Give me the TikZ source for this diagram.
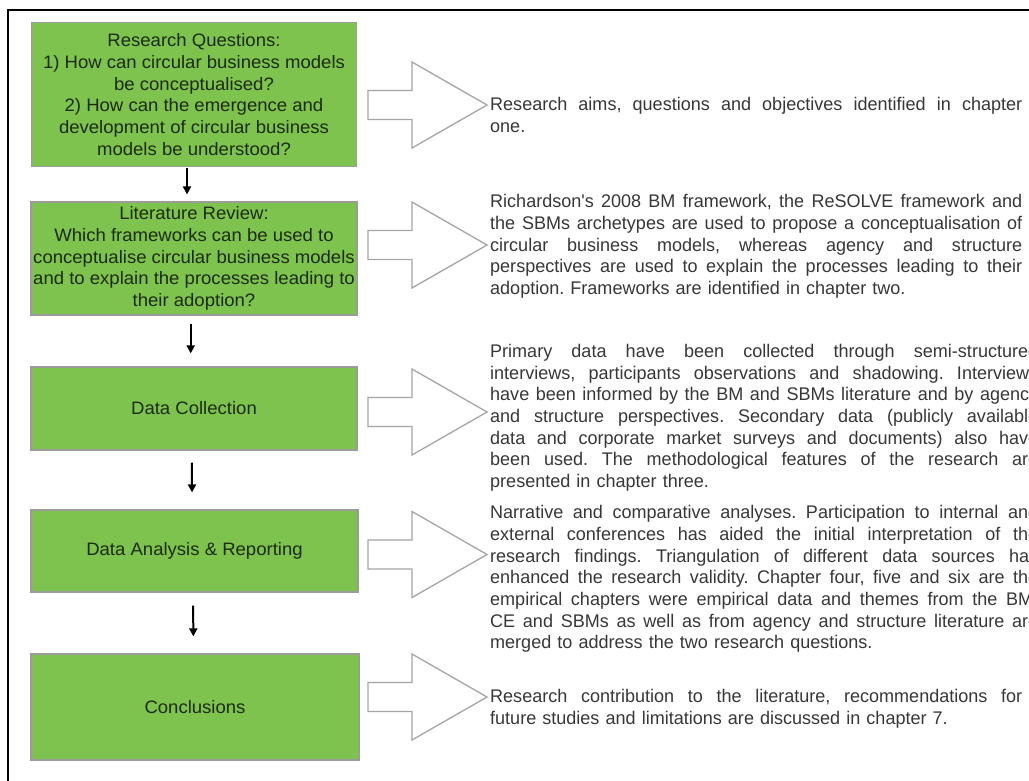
\documentclass[tikz,border=0pt]{standalone}
\usepackage{fontspec}
\setmainfont{Liberation Sans}
\newfontfamily\boxfont[FakeStretch=1.03]{Liberation Sans}
\newfontfamily\parafont[FakeStretch=0.985]{Liberation Sans}
\usetikzlibrary{arrows.meta}
\definecolor{boxgreen}{RGB}{126,195,77}
\definecolor{boxgray}{RGB}{155,155,155}
\definecolor{boxtext}{RGB}{28,42,18}
\definecolor{paratext}{RGB}{55,55,55}
\definecolor{arrowgray}{RGB}{165,165,165}
% justified line of a given width
\newcommand\jline[2]{\leavevmode{\spaceskip=.275em plus 1fil minus .05em\relax\xspaceskip=\spaceskip\hbox to #1{#2}}}
\tikzset{
  greenbox/.style={draw=boxgray, fill=boxgreen, line width=1.2pt, inner sep=0pt,
    align=center, text=boxtext, font=\boxfont\fontsize{18}{21.7}\selectfont},
  varrow/.style={-{Triangle[length=8pt,width=8pt]}, line width=2pt, black},
  para/.style={anchor=north west, inner sep=0pt, align=left, text=paratext,
    font=\parafont\fontsize{18.3}{21.7}\selectfont\frenchspacing},
  barrow/.style={draw=arrowgray, line width=1.3pt, fill=white, line join=miter},
  frameline/.style={line width=2pt, black},
  pics/blockarrow/.style={code={
    \draw[barrow] (0,-14.5) -- (44,-14.5) -- (44,-43) -- (119,0) -- (44,43) -- (44,14.5) -- (0,14.5) -- cycle;}}
}
\begin{document}
\begin{tikzpicture}[x=1pt,y=-1pt]
\useasboundingbox (0,0) rectangle (1029,780);
\fill[white] (0,0) rectangle (1029,780);
\draw[frameline] (8,781) -- (8,10) -- (1030,10);

% green boxes
\node[greenbox, minimum width=325pt, minimum height=144pt] (b1) at (194,94.7)
  {Research Questions:\\1) How can circular business models\\be conceptualised?\\2) How can the emergence and\\development of circular business\\models be understood?};
\node[greenbox, minimum width=326pt, minimum height=113pt] (b2) at (194,258.5)
  {Literature Review:\\Which frameworks can be used to\\conceptualise circular business models\\and to explain the processes leading to\\their adoption?};
\node[greenbox, minimum width=326pt, minimum height=83pt] (b3) at (194,408.5) {Data Collection};
\node[greenbox, minimum width=327pt, minimum height=82pt] (b4) at (194.5,551) {Data Analysis \& Reporting};
\node[greenbox, minimum width=328pt, minimum height=106pt] (b5) at (195,707) {Conclusions};

% vertical arrows
\draw[varrow, shorten <=1pt, shorten >=7pt] ([xshift=-7pt]b1.south) -- ([xshift=-7pt]b2.north);
\draw[varrow, shorten <=8pt, shorten >=13pt] ([xshift=-3.3pt]b2.south) -- ([xshift=-3.3pt]b3.north);
\draw[varrow, shorten <=12pt, shorten >=17pt] ([xshift=-2.3pt]b3.south) -- ([xshift=-2.3pt]b4.north);
\draw[varrow, shorten <=13pt, shorten >=17pt] ([xshift=-1.5pt]b4.south) -- ([xshift=-1.5pt]b5.north);

% block arrows
\pic (a1) at (368,105) {blockarrow};
\pic (a2) at (368,245) {blockarrow};
\pic (a3) at (368,412) {blockarrow};
\pic (a4) at (368,554.5) {blockarrow};
\pic (a5) at (368,697) {blockarrow};

% paragraphs
\node[para, text width=532pt] (p1) at (490,95.3)
  {\strut\jline{532pt}{Research aims, questions and objectives identified in chapter}\\
   one.};
\node[para, text width=532pt] (p2) at (490,192.3)
  {\strut\jline{532pt}{Richardson's 2008 BM framework, the ReSOLVE framework and}\\
   \jline{532pt}{the SBMs archetypes are used to propose a conceptualisation of}\\
   \jline{532pt}{circular business models, whereas agency and structure}\\
   \jline{532pt}{perspectives are used to explain the processes leading to their}\\
   adoption. Frameworks are identified in chapter two.};
\node[para, text width=548pt] (p3) at (490,342.1)
  {\strut\jline{548pt}{Primary data have been collected through semi-structured}\\
   \jline{548pt}{interviews, participants observations and shadowing. Interviews}\\
   \jline{548pt}{have been informed by the BM and SBMs literature and by agency}\\
   \jline{548pt}{and structure perspectives. Secondary data (publicly available}\\
   \jline{548pt}{data and corporate market surveys and documents) also have}\\
   \jline{548pt}{been used. The methodological features of the research are}\\
   presented in chapter three.};
\node[para, text width=548pt] (p4) at (490,503.3)
  {\strut\jline{548pt}{Narrative and comparative analyses. Participation to internal and}\\
   \jline{548pt}{external conferences has aided the initial interpretation of the}\\
   \jline{548pt}{research findings. Triangulation of different data sources has}\\
   \jline{548pt}{enhanced the research validity. Chapter four, five and six are the}\\
   \jline{548pt}{empirical chapters were empirical data and themes from the BM,}\\
   \jline{548pt}{CE and SBMs as well as from agency and structure literature are}\\
   merged to address the two research questions.};
\node[para, text width=532pt] (p5) at (490,687.3)
  {\strut\jline{532pt}{Research contribution to the literature, recommendations for}\\
   future studies and limitations are discussed in chapter 7.};
\end{tikzpicture}
\end{document}
